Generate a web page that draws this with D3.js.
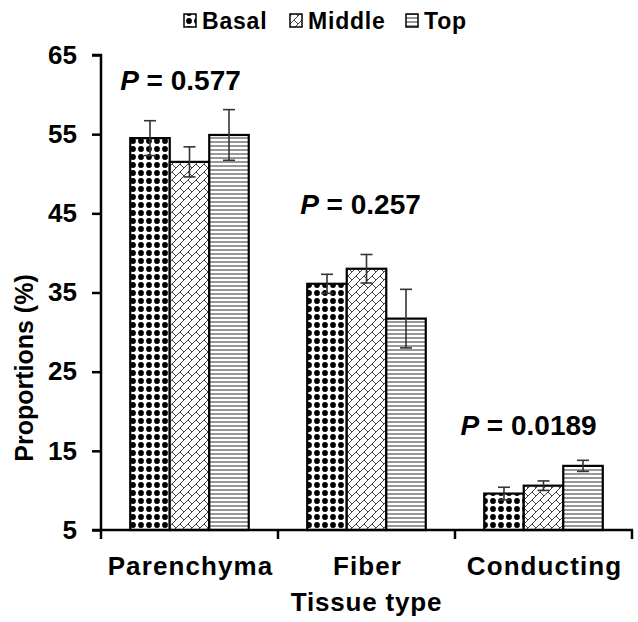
<!DOCTYPE html>
<html><head><meta charset="utf-8">
<script src="https://cdn.jsdelivr.net/npm/d3@7"></script>
<style>
html,body{margin:0;padding:0;background:#fff;}
svg{display:block;font-family:"Liberation Sans",Arial,sans-serif;font-weight:bold;}
</style></head>
<body><svg id="chart" width="638" height="622"></svg>
<script>
// ---- data ----
const categories = ["Parenchyma", "Fiber", "Conducting"];
const series = ["Basal", "Middle", "Top"];
const basal  = [54.5, 36.1, 9.6];
const middle = [51.5, 38.0, 10.6];
const top_   = [54.9, 31.7, 13.1];
const basalErr  = [2.2, 1.2, 0.8];
const middleErr = [1.9, 1.8, 0.6];
const topErr    = [3.2, 3.7, 0.7];
const pValues = ["0.577", "0.257", "0.0189"];
const yTicks = [5, 15, 25, 35, 45, 55, 65];
const yTitle = "Proportions (%)";
const xTitle = "Tissue type";

// ---- layout ----
const svg = d3.select("#chart");
const L = 101, R = 632, T = 55, B = 530;
const pLabelLevel = [60.6, 44.9, 17.0];   // label baselines, in axis units
const pLabelShift = [-9, -6, -15];

const values = [basal, middle, top_];
const errs = [basalErr, middleErr, topErr];

const y = d3.scaleLinear().domain([5, 65]).range([B, T]);
const x0 = d3.scaleBand().domain(categories).range([L, R]).paddingInner(0).paddingOuter(0);
const x1 = d3.scaleBand().domain(series).range([0, x0.bandwidth()]).paddingInner(0).paddingOuter(0.74);

// ---- patterns ----
const defs = svg.append("defs");
const pDots = defs.append("pattern").attr("id","pat-Basal").attr("patternUnits","userSpaceOnUse")
  .attr("width",8).attr("height",8).attr("x",1).attr("y",1);
pDots.append("rect").attr("width",8).attr("height",8).attr("fill","#fff");
pDots.append("circle").attr("cx",4).attr("cy",4).attr("r",2.9).attr("fill","#000");

const pBrick = defs.append("pattern").attr("id","pat-Middle").attr("patternUnits","userSpaceOnUse")
  .attr("width",8).attr("height",8);
pBrick.append("rect").attr("width",8).attr("height",8).attr("fill","#fff");
pBrick.append("path").attr("d","M-1,9 L9,-1 M-1,1 L1,-1 M7,9 L9,7 M4,4 L8,8")
  .attr("stroke","#444").attr("stroke-width",1).attr("fill","none");

const pLines = defs.append("pattern").attr("id","pat-Top").attr("patternUnits","userSpaceOnUse")
  .attr("width",8).attr("height",4);
pLines.append("rect").attr("width",8).attr("height",4).attr("fill","#fff");
pLines.append("line").attr("x1",0).attr("x2",8).attr("y1",2).attr("y2",2)
  .attr("stroke","#444").attr("stroke-width",1.1);

// ---- bars ----
const rows = [];
categories.forEach((c, ci) => series.forEach((s, si) => {
  rows.push({c, s, v: values[si][ci], e: errs[si][ci]});
}));

const g = svg.append("g");
g.selectAll("rect.bar").data(rows).enter().append("rect").attr("class","bar")
  .attr("x", d => x0(d.c) + x1(d.s))
  .attr("y", d => y(d.v))
  .attr("width", x1.bandwidth())
  .attr("height", d => y(5) - y(d.v))
  .attr("fill", d => `url(#pat-${d.s})`)
  .attr("stroke", "#000").attr("stroke-width", 2.2);

// error bars
const eb = g.selectAll("g.err").data(rows).enter().append("g").attr("class","err")
  .attr("stroke","#333").attr("stroke-width",1.6);
eb.append("line")
  .attr("x1", d => x0(d.c) + x1(d.s) + x1.bandwidth()/2)
  .attr("x2", d => x0(d.c) + x1(d.s) + x1.bandwidth()/2)
  .attr("y1", d => y(d.v + d.e)).attr("y2", d => y(d.v - d.e));
eb.append("line")
  .attr("x1", d => x0(d.c) + x1(d.s) + x1.bandwidth()/2 - 6)
  .attr("x2", d => x0(d.c) + x1(d.s) + x1.bandwidth()/2 + 6)
  .attr("y1", d => y(d.v + d.e)).attr("y2", d => y(d.v + d.e));
eb.append("line")
  .attr("x1", d => x0(d.c) + x1(d.s) + x1.bandwidth()/2 - 6)
  .attr("x2", d => x0(d.c) + x1(d.s) + x1.bandwidth()/2 + 6)
  .attr("y1", d => y(d.v - d.e)).attr("y2", d => y(d.v - d.e));

// ---- y axis ----
const yAxis = svg.append("g").attr("transform", `translate(${L},0)`)
  .call(d3.axisLeft(y).tickValues(yTicks).tickSize(9).tickPadding(15).tickFormat(d3.format("d")));
yAxis.select(".domain").attr("stroke","#000").attr("stroke-width",2.5)
  .attr("d", `M-9,${T}H0V${B}H-9`);
yAxis.selectAll(".tick line").attr("stroke","#000").attr("stroke-width",2.5);
yAxis.selectAll(".tick text").attr("fill","#000").style("font-size","26px")
  .style("font-family",'"Liberation Sans",Arial,sans-serif').style("font-weight","bold");

// ---- x axis ----
const xa = svg.append("g");
xa.append("line").attr("x1", L - 1).attr("x2", R + 1).attr("y1", B).attr("y2", B)
  .attr("stroke","#000").attr("stroke-width",2.5);
const bounds = categories.map(c => x0(c)).concat([x0.range()[1]]);
xa.selectAll("line.xt").data(bounds).enter().append("line").attr("class","xt")
  .attr("x1", d => d).attr("x2", d => d).attr("y1", B).attr("y2", B + 9)
  .attr("stroke","#000").attr("stroke-width",2.5);
xa.selectAll("text.cat").data(categories).enter().append("text").attr("class","cat")
  .attr("x", d => x0(d) + x0.bandwidth()/2 + 1).attr("y", 575)
  .attr("text-anchor","middle").style("font-size","26px").style("letter-spacing","1.1px")
  .text(d => d);

svg.append("text").attr("x", (L + R)/2).attr("y", 611).attr("text-anchor","middle")
  .style("font-size","26px").style("letter-spacing","0.8px").text(xTitle);

svg.append("text").attr("transform", `translate(33,${368}) rotate(-90)`)
  .attr("text-anchor","middle").style("font-size","25px").text(yTitle);

// ---- P labels ----
categories.forEach((c, i) => {
  const t = svg.append("text")
    .attr("x", x0(c) + x0.bandwidth()/2 + pLabelShift[i])
    .attr("y", y(pLabelLevel[i]))
    .attr("text-anchor","middle").style("font-size","28px");
  t.append("tspan").style("font-style","italic").text("P");
  t.append("tspan").text(" = " + pValues[i]);
});

// ---- legend ----
const legX = [184, 290, 406];
const leg = svg.append("g").selectAll("g").data(series).enter().append("g")
  .attr("transform", (d, i) => `translate(${legX[i]},0)`);
leg.append("rect").attr("x",0).attr("y",14).attr("width",12).attr("height",13)
  .attr("fill", d => `url(#pat-${d})`).attr("stroke","#000").attr("stroke-width",1.5);
leg.append("text").attr("x",18).attr("y",29).style("font-size","23px")
  .style("letter-spacing","0.8px").text(d => d);
</script>
</body></html>
